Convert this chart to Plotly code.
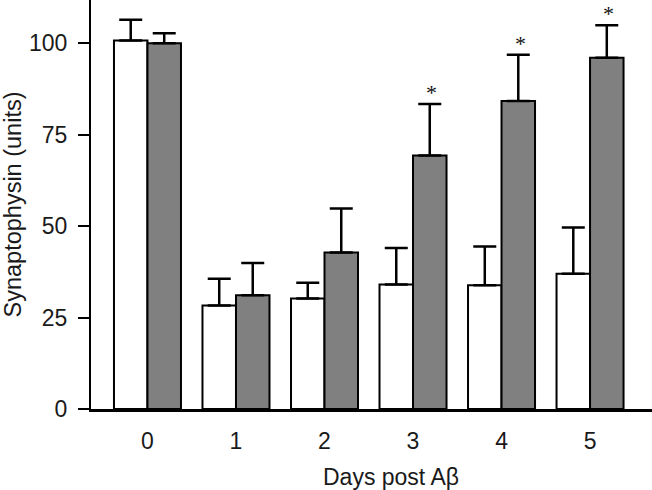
import plotly.graph_objects as go

days = ["0", "1", "2", "3", "4", "5"]
control_vals = [100.7, 28.3, 30.2, 34.0, 33.8, 37.0]
control_err = [5.7, 7.3, 4.3, 10.0, 10.6, 12.6]
treated_vals = [100.0, 31.1, 42.8, 69.3, 84.2, 96.0]
treated_err = [2.7, 8.8, 12.0, 14.1, 12.6, 8.9]
significant = [False, False, False, True, True, True]
y_ticks = [0, 25, 50, 75, 100]

x_pos = list(range(len(days)))
FONT = "Liberation Sans, Arial, sans-serif"
TXT = "#1a1a1a"

fig = go.Figure()
fig.add_trace(go.Bar(
    x=x_pos, y=control_vals,
    marker=dict(color="white", line=dict(color="black", width=2)),
    error_y=dict(type="data", symmetric=False, array=control_err,
                 arrayminus=[0] * len(days), color="black", thickness=2.5, width=11.5),
    name="control", showlegend=False,
))
fig.add_trace(go.Bar(
    x=x_pos, y=treated_vals,
    marker=dict(color="#808080", line=dict(color="black", width=2)),
    error_y=dict(type="data", symmetric=False, array=treated_err,
                 arrayminus=[0] * len(days), color="black", thickness=2.5, width=11.5),
    name="treated", showlegend=False,
))

annotations = []
for i, (v, e, s) in enumerate(zip(treated_vals, treated_err, significant)):
    if s:
        annotations.append(dict(
            x=i + 0.21, y=v + e, xref="x", yref="y", text="*", showarrow=False,
            font=dict(family="Liberation Serif, Times New Roman, serif", size=22, color="#111"),
            yanchor="bottom", yshift=-3,
        ))
annotations.append(dict(
    x=0.535, y=-(478 - 409.5) / 409.5, xref="paper", yref="paper",
    text="Days post A\u03b2", showarrow=False, yanchor="middle",
    font=dict(family=FONT, size=23, color=TXT),
))

fig.update_layout(
    width=652, height=490,
    margin=dict(l=91, r=0, t=0, b=80.5),
    paper_bgcolor="white", plot_bgcolor="white",
    barmode="group", bargap=0.243, bargroupgap=0,
    annotations=annotations,
    xaxis=dict(
        range=[-0.638, 5.70], tickmode="array", tickvals=x_pos, ticktext=days,
        showline=True, linecolor="black", linewidth=2.5, ticks="",
        showgrid=False, zeroline=False,
        tickfont=dict(family=FONT, size=23, color=TXT),
        ticklabelstandoff=10,
    ),
    yaxis=dict(
        range=[0, 111.8], tickvals=y_ticks,
        showline=True, linecolor="black", linewidth=2.2,
        ticks="outside", ticklen=11, tickwidth=2, tickcolor="black",
        showgrid=False, zeroline=False,
        tickfont=dict(family=FONT, size=23, color=TXT),
        ticklabelstandoff=6,
        title=dict(text="Synaptophysin (units)", standoff=11,
                   font=dict(family=FONT, size=23.5, color=TXT)),
    ),
)

fig.write_html(
    "out.html",
    config={"displayModeBar": False},
    post_script="document.body.style.margin='0';document.body.style.overflow='hidden';",
)
